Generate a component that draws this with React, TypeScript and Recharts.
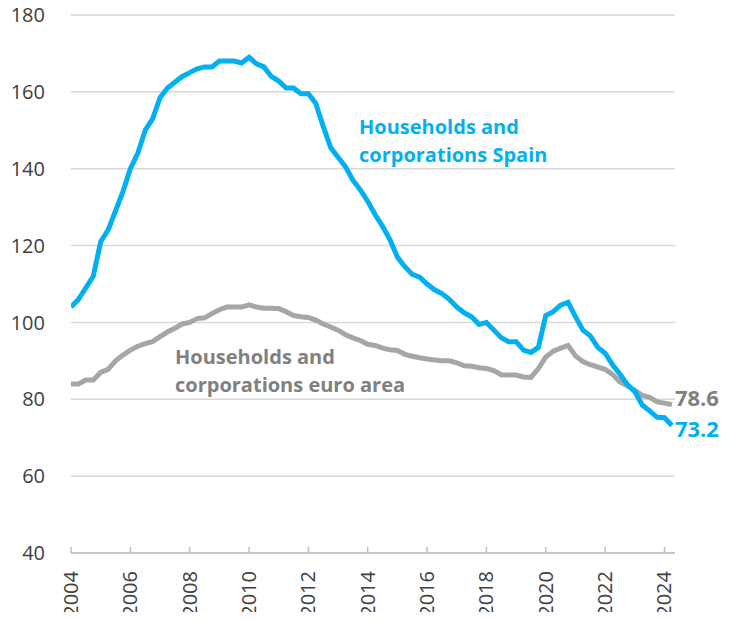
import React from "react";
import { LineChart, Line, XAxis, YAxis, CartesianGrid, LabelList, Customized } from "recharts";

// Quarterly observations, 2004Q1 .. 2024Q2 (% of GDP)
const startYear = 2004;
const spain: number[] = [
  104, 106, 109, 112, 121, 124, 129, 134,
  140, 144, 150, 153, 158.5, 161, 162.5, 164,
  165, 166, 166.5, 166.5, 168, 168, 168, 167.5,
  169, 167.3, 166.5, 164, 162.8, 161, 161, 159.5,
  159.5, 157, 151, 145.5, 143, 140.5, 137, 134.5,
  131.5, 128, 125, 121.5, 117, 114.5, 112.5, 111.8,
  110, 108.5, 107.5, 106, 104, 102.5, 101.5, 99.5,
  100, 98, 96, 95, 95, 92.8, 92.2, 93.5,
  101.8, 102.8, 104.5, 105.2, 101.5, 98, 96.5, 93.5,
  92, 89, 86.5, 83.8, 82, 78.5, 77, 75.3,
  75.2, 73.2,
];
const euroArea: number[] = [
  84, 84, 85, 85, 87, 87.8, 90, 91.5,
  92.8, 93.8, 94.5, 95, 96.3, 97.5, 98.5, 99.6,
  100, 101, 101.2, 102.3, 103.3, 104, 104, 104,
  104.6, 104, 103.7, 103.7, 103.6, 102.8, 101.8, 101.5,
  101.3, 100.6, 99.6, 98.8, 98, 96.8, 96, 95.3,
  94.3, 94, 93.3, 92.9, 92.7, 91.7, 91.2, 90.8,
  90.5, 90.2, 90, 90, 89.5, 88.7, 88.6, 88.2,
  88, 87.5, 86.4, 86.3, 86.3, 85.8, 85.7, 88,
  91, 92.5, 93.3, 94, 91.3, 89.8, 89, 88.4,
  87.8, 86.5, 84.5, 83.5, 82.3, 81, 80.5, 79.3,
  79, 78.6,
];
const xTicks = [2004, 2006, 2008, 2010, 2012, 2014, 2016, 2018, 2020, 2022, 2024];
const yTicks = [40, 60, 80, 100, 120, 140, 160, 180];

const BLUE = "#00B0F0";
const GRAY = "#A6A6A6";
const GRAY_TEXT = "#808080";
const FONT = "'Open Sans', sans-serif";

const data = spain.map((v, i) => ({
  t: startYear + i / 4,
  spain: v,
  euro: euroArea[i],
}));
const lastIndex = data.length - 1;

const XTick = (props: any) => {
  const { x, y, payload } = props;
  const tx = x + 7;
  const ty = y + 18;
  return (
    <g>
      <line x1={x} x2={x} y1={y - 6} y2={y} stroke="#BFBFBF" strokeWidth={1.5} />
      <text
        x={tx}
        y={ty}
        transform={`rotate(-90, ${tx}, ${ty})`}
        textAnchor="end"
        fill="#404040"
        fontSize={20}
        fontFamily={FONT}
      >
        {payload.value}
      </text>
    </g>
  );
};

const endLabel = (color: string, dy: number) => (props: any) => {
  const { x, y, value, index } = props;
  if (index !== lastIndex) return null;
  return (
    <text x={x + 3} y={y + dy} fill={color} fontSize={22} fontWeight={700} fontFamily={FONT}>
      {Number(value).toFixed(1)}
    </text>
  );
};

const Annotations = () => (
  <g fontFamily={FONT} fontWeight={700} fontSize={20}>
    <text x={359} y={134} fill={BLUE}>
      <tspan x={359}>Households and</tspan>
      <tspan x={359} dy={27.5}>corporations Spain</tspan>
    </text>
    <text x={175} y={364} fill={GRAY_TEXT}>
      <tspan x={175}>Households and</tspan>
      <tspan x={175} dy={27.5}>corporations euro area</tspan>
    </text>
  </g>
);

export default function App() {
  return (
    <div style={{ margin: -8, width: 730, height: 620 }}>
      <LineChart
        width={730}
        height={620}
        data={data}
        margin={{ top: 15, right: 55, bottom: 0, left: 8 }}
        style={{ fontFamily: FONT }}
      >
        <CartesianGrid vertical={false} stroke="#D9D9D9" strokeWidth={1.5} />
        <XAxis
          dataKey="t"
          type="number"
          domain={[2004, 2024.354]}
          ticks={xTicks}
          interval={0}
          height={67}
          tickSize={0}
          tickMargin={0}
          tickLine={false}
          axisLine={{ stroke: "#BFBFBF", strokeWidth: 1.5 }}
          tick={<XTick />}
          allowDataOverflow
        />
        <YAxis
          domain={[40, 180]}
          ticks={yTicks}
          width={63}
          axisLine={false}
          tickLine={false}
          tickSize={0}
          tickMargin={26}
          tick={{ fill: "#404040", fontSize: 20, fontFamily: FONT }}
          interval={0}
        />
        <Line
          type="linear"
          dataKey="euro"
          stroke={GRAY}
          strokeWidth={5}
          dot={false}
          isAnimationActive={false}
        >
          <LabelList dataKey="euro" content={endLabel(GRAY_TEXT, 1)} />
        </Line>
        <Line
          type="linear"
          dataKey="spain"
          stroke={BLUE}
          strokeWidth={5}
          dot={false}
          isAnimationActive={false}
        >
          <LabelList dataKey="spain" content={endLabel(BLUE, 12)} />
        </Line>
        <Customized component={Annotations} />
      </LineChart>
    </div>
  );
}
